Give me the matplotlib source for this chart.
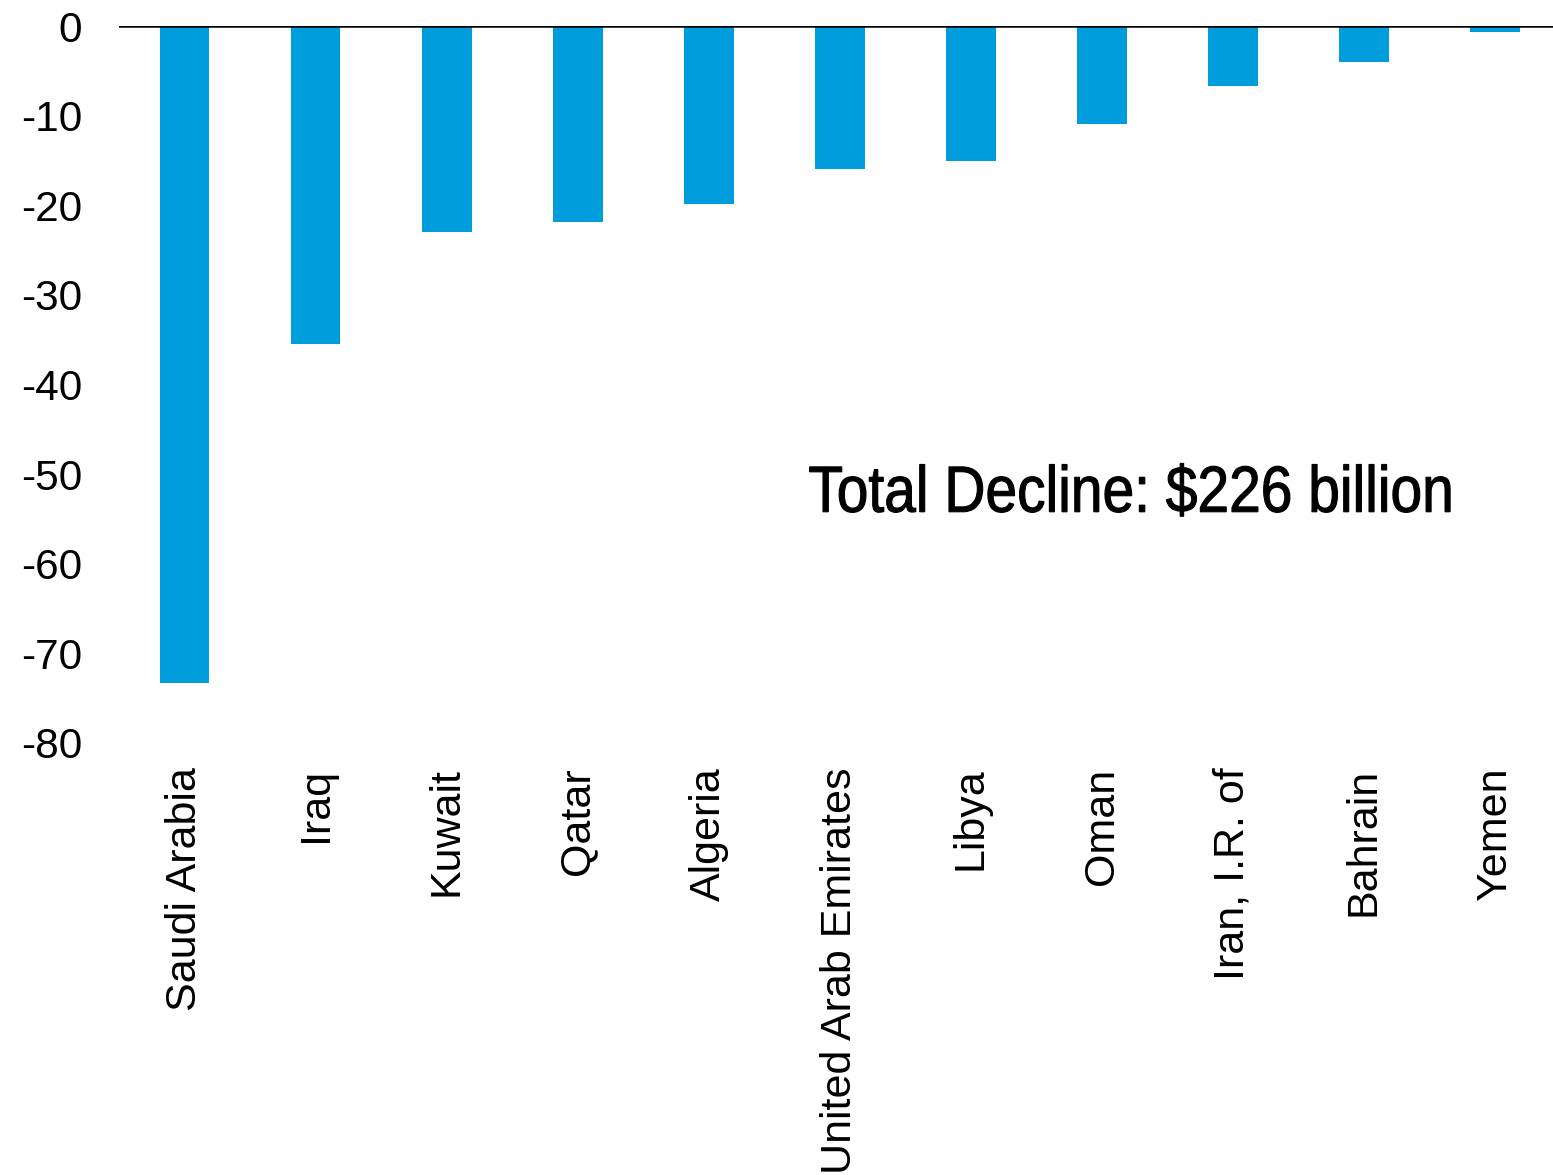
import numpy as np
import matplotlib.pyplot as plt
from matplotlib.textpath import TextPath
from matplotlib.patches import PathPatch
from matplotlib.font_manager import FontProperties
from matplotlib.transforms import Affine2D, ScaledTranslation

countries = ['Saudi Arabia', 'Iraq', 'Kuwait', 'Qatar', 'Algeria',
             'United Arab Emirates', 'Libya', 'Oman', 'Iran, I.R. of',
             'Bahrain', 'Yemen']
change = [-73.3, -35.5, -23.0, -21.9, -19.9, -16.0, -15.1, -10.9, -6.7, -4.0, -0.7]
yticks = [0, -10, -20, -30, -40, -50, -60, -70, -80]

plt.rcParams['font.family'] = ['Liberation Sans', 'DejaVu Sans']

fig = plt.figure(figsize=(15.53, 11.75), dpi=100)
ax = fig.add_axes([119 / 1553, 1 - 743 / 1175, 1441.5 / 1553, (743 - 26) / 1175])

x = np.arange(len(countries))
ax.bar(x, change, width=0.38, color='#009ddc', zorder=2)
ax.axhline(0, color='black', lw=1.8, zorder=3)

ax.set_xlim(-0.5, len(countries) - 0.5)
ax.set_ylim(-80, 0)
ax.set_yticks(yticks)
ax.set_yticklabels([str(v) for v in yticks], fontsize=30.5)
ax.set_xticks(x)
ax.set_xticklabels(countries, rotation=90, fontsize=31, va='top', ha='center')
ax.tick_params(axis='y', length=0, pad=26.6)
ax.tick_params(axis='x', length=0, pad=17.6)
for s in ax.spines.values():
    s.set_visible(False)

# condensed caption: squeeze the glyph outlines horizontally
label = 'Total Decline: $226 billion'
tp = TextPath((0, 0), label, size=47, prop=FontProperties(family='Liberation Sans'))
tr = (Affine2D().scale(0.872 / 72, 1 / 72) + fig.dpi_scale_trans
      + ScaledTranslation(4.76, -54.2, ax.transData))
ax.add_patch(PathPatch(tp, transform=tr, facecolor='black', edgecolor='black',
                       lw=0.8, clip_on=False))

fig.savefig('out.png', dpi=100)
